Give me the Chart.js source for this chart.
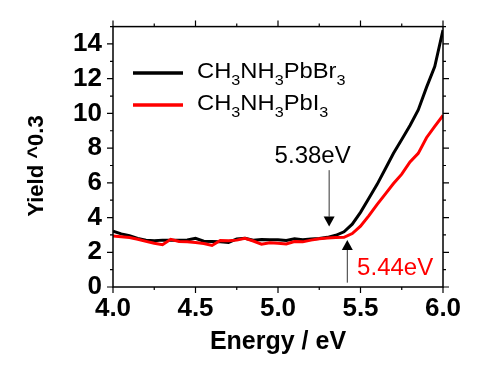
<!DOCTYPE html>
<html>
<head>
<meta charset="utf-8">
<script src="https://cdn.jsdelivr.net/npm/chart.js@4.4.1/dist/chart.umd.min.js"></script>
<style>
  html, body { margin: 0; padding: 0; background: #fff; }
  #chart { display: block; }
</style>
</head>
<body>
<canvas id="chart" width="500" height="379"></canvas>
<script>
/* ---- data ---- */
const energy = [
  4.00, 4.05, 4.10, 4.15, 4.20, 4.25, 4.30, 4.35, 4.40, 4.45,
  4.50, 4.55, 4.60, 4.65, 4.70, 4.75, 4.80, 4.85, 4.90, 4.95,
  5.00, 5.05, 5.10, 5.15, 5.20, 5.25, 5.30, 5.35, 5.40, 5.45,
  5.50, 5.55, 5.60, 5.65, 5.70, 5.75, 5.80, 5.85, 5.90, 5.95, 6.00
];
const yieldBr = [
  3.22, 3.06, 2.95, 2.80, 2.70, 2.66, 2.70, 2.70, 2.70, 2.71,
  2.81, 2.64, 2.62, 2.60, 2.57, 2.77, 2.81, 2.70, 2.74, 2.72,
  2.72, 2.68, 2.78, 2.72, 2.76, 2.80, 2.86, 2.98, 3.18, 3.62,
  4.30, 5.10, 5.90, 6.80, 7.70, 8.50, 9.30, 10.20, 11.50, 12.70, 14.80
];
const yieldI = [
  2.94, 2.90, 2.85, 2.75, 2.63, 2.52, 2.44, 2.75, 2.62, 2.60,
  2.56, 2.50, 2.39, 2.68, 2.66, 2.70, 2.80, 2.65, 2.47, 2.55,
  2.52, 2.48, 2.62, 2.60, 2.70, 2.78, 2.82, 2.85, 2.86, 3.08,
  3.50, 4.10, 4.75, 5.35, 5.96, 6.50, 7.20, 7.70, 8.60, 9.25, 9.88
];
const seriesNames = ["CH3NH3PbBr3", "CH3NH3PbI3"];
const seriesColors = ["#000000", "#ff0000"];

// onset arrows, in data units
const onsets = [
  { label: "5.38eV", color: "#000000", x: 5.31, tip: 3.48, tail: 6.73, textX: 5.21, textY: 7.53, dir: -1 },
  { label: "5.44eV", color: "#ff0000", x: 5.42, tip: 2.71, tail: 0.25, textX: 5.71, textY: 1.10, dir: 1 }
];

const FONT = "'Liberation Sans', Arial, sans-serif";

/* frame on all four sides + outward ticks */
const frameTicks = {
  id: "frameTicks",
  afterDraw(chart) {
    const { ctx, chartArea: a, scales: { x, y } } = chart;
    ctx.save();
    ctx.strokeStyle = "#000";
    ctx.lineWidth = 1.5;
    ctx.strokeRect(a.left, a.top, a.right - a.left, a.bottom - a.top);
    ctx.lineWidth = 1.2;
    ctx.beginPath();
    x.ticks.forEach(t => {
      const px = x.getPixelForValue(t.value);
      const major = Math.abs(t.value * 2 - Math.round(t.value * 2)) < 1e-6;
      const len = major ? 6 : 3;
      ctx.moveTo(px, a.bottom); ctx.lineTo(px, a.bottom + len);
      ctx.moveTo(px, a.top); ctx.lineTo(px, a.top - len);
    });
    y.ticks.forEach(t => {
      const py = y.getPixelForValue(t.value);
      const len = Math.round(t.value) % 2 === 0 ? 6 : 3;
      ctx.moveTo(a.left, py); ctx.lineTo(a.left - len, py);
      ctx.moveTo(a.right, py); ctx.lineTo(a.right + len, py);
    });
    ctx.stroke();
    ctx.restore();
  }
};

/* digits become subscripts */
function drawFormula(ctx, text, x, y, size) {
  let cx = x;
  for (const ch of text) {
    const sub = /[0-9]/.test(ch);
    ctx.font = (sub ? Math.round(size * 0.68) : size) + "px " + FONT;
    ctx.fillText(ch, cx, sub ? y + 7 : y);
    cx += ctx.measureText(ch).width;
  }
}

const formulaLegend = {
  id: "formulaLegend",
  afterDraw(chart) {
    const ctx = chart.ctx;
    ctx.save();
    seriesNames.forEach((name, i) => {
      const ly = 73 + i * 32;
      ctx.strokeStyle = seriesColors[i];
      ctx.lineWidth = 3.5;
      ctx.beginPath();
      ctx.moveTo(133, ly);
      ctx.lineTo(183, ly);
      ctx.stroke();
      ctx.fillStyle = "#000";
      ctx.textAlign = "left";
      ctx.textBaseline = "alphabetic";
      ctx.save();
      ctx.translate(197, ly + 5);
      ctx.scale(1.08, 1);
      drawFormula(ctx, name, 0, 0, 22);
      ctx.restore();
    });
    ctx.restore();
  }
};

const onsetArrows = {
  id: "onsetArrows",
  afterDatasetsDraw(chart) {
    const { ctx, scales: { x, y } } = chart;
    ctx.save();
    onsets.forEach(o => {
      const px = x.getPixelForValue(o.x);
      const tip = y.getPixelForValue(o.tip);
      const tail = y.getPixelForValue(o.tail);
      const head = 10;
      // shaft
      ctx.strokeStyle = "#333";
      ctx.lineWidth = 1;
      ctx.beginPath();
      ctx.moveTo(px, tail);
      ctx.lineTo(px, tip + o.dir * head);
      ctx.stroke();
      // head
      ctx.fillStyle = "#000";
      ctx.beginPath();
      ctx.moveTo(px, tip);
      ctx.lineTo(px - 5.5, tip + o.dir * head);
      ctx.lineTo(px + 5.5, tip + o.dir * head);
      ctx.closePath();
      ctx.fill();
      // label
      ctx.fillStyle = o.color;
      ctx.font = "24px " + FONT;
      ctx.textAlign = "center";
      ctx.textBaseline = "middle";
      ctx.fillText(o.label, x.getPixelForValue(o.textX), y.getPixelForValue(o.textY));
    });
    ctx.restore();
  }
};

const toXY = vals => vals.map((v, i) => ({ x: energy[i], y: v }));

new Chart(document.getElementById("chart"), {
  type: "line",
  data: {
    datasets: [
      {
        label: seriesNames[0],
        data: toXY(yieldBr),
        borderColor: seriesColors[0],
        borderWidth: 3,
        pointRadius: 0,
        tension: 0,
        order: 1,
      },
      {
        label: seriesNames[1],
        data: toXY(yieldI),
        borderColor: seriesColors[1],
        borderWidth: 3,
        pointRadius: 0,
        tension: 0,
        order: 0,
      },
    ],
  },
  options: {
    responsive: false,
    animation: false,
    events: [],
    layout: { padding: { top: 25, right: 57, left: 0, bottom: 0 } },
    plugins: {
      legend: { display: false },
      tooltip: { enabled: false },
    },
    scales: {
      x: {
        type: "linear",
        min: 4,
        max: 6,
        grid: { display: false, drawTicks: false },
        border: { display: false },
        ticks: {
          stepSize: 0.25,
          includeBounds: false,
          autoSkip: false,
          maxRotation: 0,
          padding: 6,
          color: "#000",
          font: { family: FONT, size: 26, weight: "bold" },
          callback: v => (Math.round(v * 100) % 50 === 0 ? v.toFixed(1) : ""),
        },
        title: {
          display: true,
          text: "Energy / eV",
          color: "#000",
          font: { family: FONT, size: 25, weight: "bold" },
          padding: { top: 0, bottom: 22 },
        },
        afterFit: s => { s.height = 92; },
      },
      y: {
        min: 0,
        max: 15,
        grid: { display: false, drawTicks: false },
        border: { display: false },
        ticks: {
          stepSize: 1,
          autoSkip: false,
          padding: 11,
          color: "#000",
          font: { family: FONT, size: 26, weight: "bold" },
          callback: v => (Math.round(v) % 2 === 0 ? v : ""),
        },
        title: {
          display: true,
          // trailing spaces push the visible text down to where it sits in the figure
          text: "Yield ^0.3   ",
          color: "#000",
          font: { family: FONT, size: 22, weight: "bold" },
          padding: { top: 24, bottom: 0 },
        },
        afterFit: s => { s.width = 113; },
      },
    },
  },
  plugins: [frameTicks, onsetArrows, formulaLegend],
});
</script>
</body>
</html>
